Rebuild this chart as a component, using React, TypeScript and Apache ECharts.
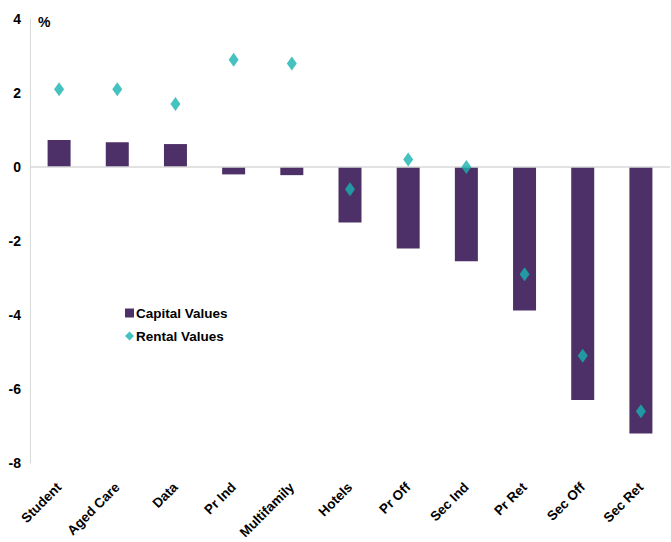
import React, { useEffect, useRef } from "react";
import * as echarts from "echarts";

const categories = ["Student", "Aged Care", "Data", "Pr Ind", "Multifamily", "Hotels", "Pr Off", "Sec Ind", "Pr Ret", "Sec Off", "Sec Ret"];
const capitalValues = [0.73, 0.67, 0.62, -0.2, -0.22, -1.5, -2.2, -2.55, -3.88, -6.3, -7.2];
const rentalValues = [2.1, 2.1, 1.7, 2.9, 2.8, -0.6, 0.2, 0.0, -2.9, -5.1, -6.6];
const yTicks = { min: -8, max: 4, interval: 2 };

const FONT = "'Liberation Sans', Arial, sans-serif";
const PURPLE = "#4e3068";
const TEAL = "#17b3b0";

export default function App() {
  const ref = useRef<HTMLDivElement>(null);
  useEffect(() => {
    if (!ref.current) return;
    const chart = echarts.init(ref.current, null, { renderer: "svg" });
    chart.setOption({
      animation: false,
      backgroundColor: "#ffffff",
      textStyle: { fontFamily: FONT },
      grid: { left: 30, right: 1, top: 19, bottom: 79, containLabel: false, outerBoundsMode: "none" },
      graphic: [
        {
          type: "text",
          left: 38,
          top: 15,
          style: { text: "%", font: `bold 14px ${FONT}`, fill: "#000" },
        },
      ],
      legend: {
        orient: "vertical",
        left: 120,
        top: 301,
        itemWidth: 9,
        itemHeight: 9,
        itemGap: 9,
        textStyle: { fontSize: 13.5, fontWeight: "bold", color: "#000", fontFamily: FONT, padding: [0, 0, 0, -3] },
        data: [
          { name: "Capital Values", icon: "rect" },
          { name: "Rental Values", icon: "diamond" },
        ],
      },
      xAxis: {
        type: "category",
        data: categories,
        axisLine: { show: false, onZero: false },
        axisTick: { show: false },
        axisLabel: {
          interval: 0,
          rotate: 45,
          margin: 22,
          fontSize: 13.5,
          fontWeight: "bold",
          color: "#000",
          fontFamily: FONT,
        },
      },
      yAxis: {
        type: "value",
        min: yTicks.min,
        max: yTicks.max,
        interval: yTicks.interval,
        axisLine: { show: true, lineStyle: { color: "#d9d9d9", width: 1 } },
        axisTick: { show: false },
        splitLine: { show: false },
        axisLabel: { fontSize: 14, fontWeight: "bold", color: "#000", margin: 9, fontFamily: FONT },
      },
      series: [
        {
          name: "Capital Values",
          type: "bar",
          data: capitalValues,
          barWidth: 23,
          itemStyle: { color: PURPLE },
          markLine: {
            silent: true,
            symbol: "none",
            label: { show: false },
            lineStyle: { color: "#d9d9d9", width: 1.5, type: "solid" },
            data: [{ yAxis: 0 }],
          },
        },
        {
          name: "Rental Values",
          type: "scatter",
          data: rentalValues,
          symbol: "diamond",
          symbolSize: [10, 14],
          itemStyle: { color: TEAL },
          z: 5,
        },
      ],
    });
    return () => chart.dispose();
  }, []);
  return <div ref={ref} style={{ width: 671, height: 542, position: "absolute", left: 0, top: 0 }} />;
}
